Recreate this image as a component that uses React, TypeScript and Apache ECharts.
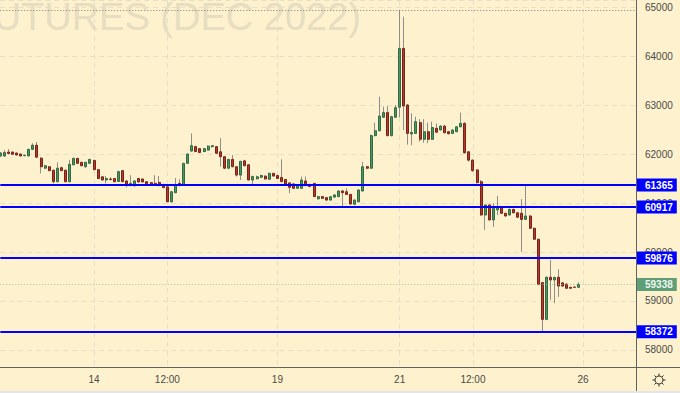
import React, { useEffect, useRef } from 'react';
import * as echarts from 'echarts';

// ---- data ----
const tradingDays = ['10-12', '10-13', '10-14', '10-17', '10-18', '10-19', '10-20', '10-21', '10-24', '10-25', '10-26'];
const sessionHours = ['09:00', '10:00', '11:00', '12:00', '13:00', '14:00', '15:00', '16:00', '17:00', '18:00', '19:00', '20:00', '21:00', '22:00', '23:00'];
const firstBarOffset = 7; // first visible bar: 10-12 16:00
const futureSlots = 14;

// [open, high, low, close]
const candles: number[][] = [
  [61960, 62040, 61940, 62020], [61960, 62080, 61940, 62030], [62040, 62100, 61990, 62010], [62040, 62050, 61990, 61995],
  [62020, 62030, 61970, 61980], [62000, 62010, 61950, 61960], [61965, 61990, 61955, 61975], [61960, 62110, 61950, 62095],
  [62095, 62220, 62080, 62180], [62180, 62245, 61930, 61935], [61915, 61935, 61605, 61740], [61710, 61780, 61700, 61760],
  [61740, 61750, 61650, 61660], [61670, 61680, 61400, 61435], [61435, 61830, 61420, 61710], [61720, 61740, 61650, 61660],
  [61670, 61680, 61420, 61435], [61435, 61880, 61420, 61790], [61780, 61930, 61770, 61910], [61910, 61920, 61800, 61810],
  [61830, 61840, 61750, 61760], [61740, 61840, 61720, 61830], [61810, 61900, 61800, 61890], [61870, 61880, 61670, 61680],
  [61680, 61690, 61490, 61500], [61535, 61540, 61460, 61470], [61470, 61550, 61400, 61500], [61490, 61530, 61460, 61480],
  [61500, 61510, 61425, 61435], [61440, 61660, 61430, 61640], [61660, 61670, 61425, 61435], [61450, 61460, 61320, 61370],
  [61390, 61570, 61340, 61400], [61350, 61470, 61340, 61450], [61500, 61510, 61420, 61430], [61490, 61500, 61420, 61430],
  [61435, 61445, 61380, 61390], [61415, 61425, 61360, 61370], [61400, 61570, 61360, 61390], [61420, 61550, 61335, 61380],
  [61380, 61390, 61300, 61315], [61330, 61370, 61020, 61025], [61025, 61240, 61010, 61230], [61210, 61510, 61200, 61370],
  [61400, 61480, 61340, 61390], [61370, 61820, 61360, 61810], [61810, 62010, 61800, 62000], [62060, 62420, 62050, 62170],
  [62150, 62170, 62040, 62050], [62110, 62120, 62020, 62030], [62050, 62120, 62040, 62110], [62080, 62180, 62070, 62160],
  [62150, 62180, 62130, 62170], [62150, 62160, 62000, 62015], [62045, 62325, 61740, 61945], [61945, 61960, 61690, 61710],
  [61710, 61900, 61690, 61890], [61890, 61980, 61730, 61740], [61740, 61750, 61540, 61570], [61570, 61860, 61470, 61850],
  [61860, 61880, 61750, 61760], [61780, 61790, 61460, 61470], [61470, 61560, 61370, 61540], [61495, 61560, 61480, 61535],
  [61525, 61580, 61510, 61560], [61550, 61560, 61480, 61490], [61485, 61620, 61470, 61605], [61605, 61615, 61540, 61550],
  [61560, 61580, 61490, 61500], [61520, 61890, 61420, 61440], [61480, 61490, 61370, 61385], [61410, 61420, 61200, 61320],
  [61390, 61400, 61290, 61300], [61300, 61375, 61290, 61365], [61300, 61540, 61290, 61470], [61450, 61540, 61345, 61355],
  [61380, 61390, 61325, 61335], [61400, 61410, 61120, 61130], [61085, 61145, 61070, 61130], [61130, 61140, 61085, 61095],
  [61110, 61120, 61050, 61060], [61060, 61140, 61050, 61130], [61120, 61175, 61110, 61165], [61130, 61260, 61120, 61245],
  [61245, 61270, 60940, 61210], [61230, 61300, 61165, 61175], [61175, 61185, 60965, 60980], [60975, 61070, 60960, 61060],
  [61025, 61280, 61015, 61265], [61245, 61840, 61235, 61740], [61740, 61760, 61690, 61710], [61710, 62400, 61700, 62375],
  [62375, 62640, 62360, 62475], [62475, 63170, 62460, 62775], [62750, 62965, 62740, 62845], [62845, 62980, 62360, 62375],
  [62375, 62780, 62360, 62760], [62750, 63000, 62735, 62945], [62955, 64940, 62750, 64155], [64155, 64800, 62490, 62980],
  [63000, 63020, 62190, 62420], [62410, 62830, 62180, 62440], [62420, 62760, 62410, 62660], [62640, 62710, 62250, 62300],
  [62300, 62710, 62230, 62455], [62455, 62640, 62220, 62300], [62300, 62660, 62290, 62540], [62525, 62625, 62430, 62445],
  [62490, 62590, 62480, 62570], [62570, 62590, 62420, 62435], [62455, 62470, 62400, 62415], [62420, 62500, 62410, 62490],
  [62455, 62570, 62445, 62555], [62555, 62845, 62545, 62625], [62625, 62650, 62010, 62025], [62045, 62060, 61845, 61875],
  [61875, 61890, 61640, 61660], [61675, 61690, 61400, 61415], [61435, 61470, 60740, 60755], [60755, 60970, 60450, 60960],
  [60960, 60970, 60640, 60655], [60655, 60995, 60515, 60890], [60860, 61145, 60755, 60925], [60925, 60940, 60775, 60790],
  [60790, 60800, 60720, 60735], [60755, 60885, 60745, 60870], [60870, 60885, 60790, 60800], [60800, 60815, 60695, 60710],
  [60790, 61080, 60005, 60665], [60665, 61365, 60655, 60735], [60735, 60750, 60470, 60485], [60485, 60495, 60245, 60260],
  [60260, 60270, 59320, 59340], [59375, 59390, 58380, 58625], [58625, 59500, 58610, 59485], [59485, 59835, 59020, 59430],
  [59430, 59500, 58955, 59480], [59485, 59645, 59085, 59305], [59370, 59390, 59290, 59305], [59345, 59360, 59245, 59260],
  [59280, 59285, 59250, 59260], [59285, 59290, 59275, 59280], [59280, 59385, 59275, 59338],
];

const priceLevels = [61365, 60917, 59876, 58372];
const xTickLabels = ['10-14 09:00', '10-17 12:00', '10-19 09:00', '10-21 09:00', '10-24 12:00', '10-26 09:00'];
const watermark = 'FUTURES (DEC 2022)';
const yRange = [57653, 65143];

const FONT = '"Liberation Sans", Arial, sans-serif';

export default function App() {
  const ref = useRef<HTMLDivElement>(null);
  useEffect(() => {
    if (!ref.current) return;
    const chart = echarts.init(ref.current, undefined, { renderer: 'svg' });

    const allSlots: string[] = [];
    tradingDays.forEach((d) => sessionHours.forEach((h) => allSlots.push(d + ' ' + h)));
    const categories = allSlots.slice(firstBarOffset, firstBarOffset + candles.length + futureSlots);

    const wickData = candles.map(([o, h, l, c]) => [o, c, l, h]);
    const bodyData = candles.map(([o, , , c]) => [o, c, Math.min(o, c), Math.max(o, c)]);
    const lastClose = candles[candles.length - 1][3];
    const maxHigh = Math.max(...candles.map((k) => k[1]));

    const showTick = (_i: number, v: string) => xTickLabels.indexOf(v) >= 0;
    const gridLine = { color: '#e6dec6', type: [5, 4], width: 1 };

    const levelLabel = (bg: string, fg: string) => ({
      show: true,
      position: 'end',
      distance: 1,
      formatter: (p: any) => String(p.value),
      color: fg,
      backgroundColor: bg,
      padding: [2, 4, 1, 8],
      fontSize: 10,
      lineHeight: 10,
      fontWeight: 'bold',
      fontFamily: FONT,
    });

    const gearTeeth = [0, 1, 2, 3, 4, 5, 6, 7].map((k) => {
      const a = (k * Math.PI) / 4;
      return {
        type: 'line',
        z: 20,
        shape: { x1: 659 + Math.cos(a) * 4, y1: 380 + Math.sin(a) * 4, x2: 659 + Math.cos(a) * 6.5, y2: 380 + Math.sin(a) * 6.5 },
        style: { stroke: '#333', lineWidth: 1 },
      };
    });

    chart.setOption({
      animation: false,
      backgroundColor: '#fdf2cd',
      grid: { left: 0.28, top: 0, width: 635.7, height: 367, containLabel: false },
      xAxis: {
        type: 'category',
        data: categories,
        boundaryGap: false,
        axisLine: { show: false },
        axisTick: { show: false },
        axisLabel: {
          interval: showTick,
          formatter: (v: string) => {
            const [d, t] = v.split(' ');
            return t === '09:00' ? String(parseInt(d.split('-')[1], 10)) : t;
          },
          color: '#4a4a4a',
          fontSize: 10,
          margin: 7,
          fontFamily: FONT,
        },
        splitLine: { show: true, interval: showTick, lineStyle: gridLine },
      },
      yAxis: {
        type: 'value',
        position: 'right',
        min: yRange[0],
        max: yRange[1],
        splitNumber: 7,
        axisLine: { show: false },
        axisTick: { show: false },
        axisLabel: {
          color: '#4a4a4a',
          fontSize: 10,
          margin: 9,
          showMinLabel: false,
          showMaxLabel: false,
          fontFamily: FONT,
          formatter: (v: number) => String(v),
        },
        splitLine: { show: true, lineStyle: gridLine },
      },
      graphic: [
        {
          type: 'text',
          x: 361,
          y: 17,
          z: 0,
          silent: true,
          style: { text: watermark, font: '38px "Liberation Sans", Arial, sans-serif', fill: '#e7ddc1', textAlign: 'right', textVerticalAlign: 'middle' },
        },
        { type: 'line', z: 20, shape: { x1: 0, y1: 367.5, x2: 680, y2: 367.5 }, style: { stroke: '#626262', lineWidth: 1 } },
        { type: 'line', z: 20, shape: { x1: 636.5, y1: 0, x2: 636.5, y2: 393 }, style: { stroke: '#626262', lineWidth: 1 } },
        { type: 'rect', z: 20, shape: { x: 0, y: 391, width: 680, height: 2 }, style: { fill: '#e3e5ea' } },
        { type: 'circle', z: 20, shape: { cx: 659, cy: 380, r: 4 }, style: { fill: 'none', stroke: '#333', lineWidth: 1 } },
        ...gearTeeth,
      ],
      series: [
        {
          type: 'candlestick',
          name: 'wick',
          data: wickData,
          barWidth: 1,
          z: 2,
          silent: true,
          itemStyle: { color: '#8e8e8e', color0: '#8e8e8e', borderColor: '#8e8e8e', borderColor0: '#8e8e8e', borderWidth: 1 },
        },
        {
          type: 'candlestick',
          name: 'price',
          data: bodyData,
          barWidth: 2.5,
          z: 3,
          itemStyle: { color: '#4f9468', color0: '#b23a2c', borderColor: '#2f6b45', borderColor0: '#7a2419', borderWidth: 1 },
          markLine: {
            symbol: 'none',
            silent: true,
            animation: false,
            data: [
              ...priceLevels.map((v) => ({
                yAxis: v,
                lineStyle: { color: '#0000ff', width: 2, type: 'solid' },
                label: levelLabel('#0000ff', '#ffffff'),
              })),
              {
                yAxis: lastClose,
                lineStyle: { color: '#93c49c', width: 1, type: [1, 2] },
                label: levelLabel('#5f9f78', '#eef7ee'),
              },
              {
                yAxis: maxHigh,
                lineStyle: { color: '#7a7a7a', width: 1, type: [1, 2] },
                label: { show: false },
              },
            ],
          },
        },
      ],
    });
    return () => chart.dispose();
  }, []);
  return <div ref={ref} style={{ position: 'fixed', left: 0, top: 0, width: 680, height: 393 }} />;
}
